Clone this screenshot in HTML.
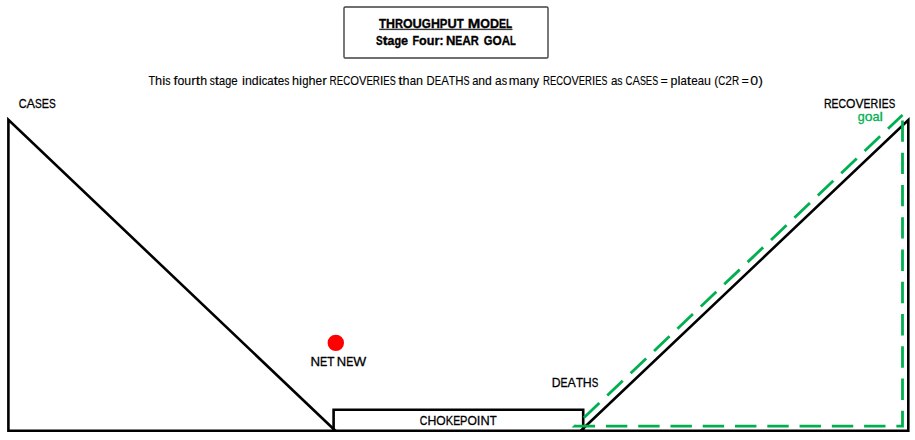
<!DOCTYPE html>
<html><head><meta charset="utf-8">
<style>
html,body{margin:0;padding:0;background:#fff;width:915px;height:440px;overflow:hidden}
svg{display:block}
text{font-family:"Liberation Sans",sans-serif;fill:#000;stroke:#000}
</style></head><body>
<svg width="915" height="440" viewBox="0 0 915 440">
<rect x="0" y="0" width="915" height="440" fill="#fff"/>
<!-- title box -->
<rect x="344" y="7" width="204" height="51" fill="none" stroke="#404040" stroke-width="1.4" rx="1.2"/>
<rect x="379.1" y="28.7" width="133.4" height="1.4" fill="#333"/>
<text x="378.97" y="27.90" font-size="13.23" font-weight="bold" textLength="7.03" lengthAdjust="spacingAndGlyphs" stroke-width="0.35">T</text>
<text x="386.00" y="27.90" font-size="13.23" font-weight="bold" textLength="8.96" lengthAdjust="spacingAndGlyphs" stroke-width="0.35">H</text>
<text x="394.97" y="27.90" font-size="13.23" font-weight="bold" textLength="8.00" lengthAdjust="spacingAndGlyphs" stroke-width="0.35">R</text>
<text x="402.96" y="27.90" font-size="13.23" font-weight="bold" textLength="9.60" lengthAdjust="spacingAndGlyphs" stroke-width="0.35">O</text>
<text x="412.57" y="27.90" font-size="13.23" font-weight="bold" textLength="9.28" lengthAdjust="spacingAndGlyphs" stroke-width="0.35">U</text>
<text x="421.84" y="27.90" font-size="13.23" font-weight="bold" textLength="9.05" lengthAdjust="spacingAndGlyphs" stroke-width="0.35">G</text>
<text x="430.89" y="27.90" font-size="13.23" font-weight="bold" textLength="8.96" lengthAdjust="spacingAndGlyphs" stroke-width="0.35">H</text>
<text x="439.86" y="27.90" font-size="13.23" font-weight="bold" textLength="7.56" lengthAdjust="spacingAndGlyphs" stroke-width="0.35">P</text>
<text x="447.42" y="27.90" font-size="13.23" font-weight="bold" textLength="9.28" lengthAdjust="spacingAndGlyphs" stroke-width="0.35">U</text>
<text x="456.69" y="27.90" font-size="13.23" font-weight="bold" textLength="7.03" lengthAdjust="spacingAndGlyphs" stroke-width="0.35">T</text>
<text x="467.79" y="27.90" font-size="13.23" font-weight="bold" textLength="12.53" lengthAdjust="spacingAndGlyphs" stroke-width="0.35">M</text>
<text x="480.32" y="27.90" font-size="13.23" font-weight="bold" textLength="9.69" lengthAdjust="spacingAndGlyphs" stroke-width="0.35">O</text>
<text x="490.01" y="27.90" font-size="13.23" font-weight="bold" textLength="9.03" lengthAdjust="spacingAndGlyphs" stroke-width="0.35">D</text>
<text x="499.05" y="27.90" font-size="13.23" font-weight="bold" textLength="7.00" lengthAdjust="spacingAndGlyphs" stroke-width="0.35">E</text>
<text x="506.04" y="27.90" font-size="13.23" font-weight="bold" textLength="6.06" lengthAdjust="spacingAndGlyphs" stroke-width="0.35">L</text>
<text x="376.11" y="44.70" font-size="13.23" font-weight="bold" textLength="6.61" lengthAdjust="spacingAndGlyphs" stroke-width="0.35">S</text>
<text x="382.72" y="44.70" font-size="13.23" font-weight="bold" textLength="4.85" lengthAdjust="spacingAndGlyphs" stroke-width="0.35">t</text>
<text x="387.57" y="44.70" font-size="13.23" font-weight="bold" textLength="6.90" lengthAdjust="spacingAndGlyphs" stroke-width="0.35">a</text>
<text x="394.48" y="44.70" font-size="13.23" font-weight="bold" textLength="6.62" lengthAdjust="spacingAndGlyphs" stroke-width="0.35">g</text>
<text x="401.10" y="44.70" font-size="13.23" font-weight="bold" textLength="7.03" lengthAdjust="spacingAndGlyphs" stroke-width="0.35">e</text>
<text x="412.48" y="44.70" font-size="13.23" font-weight="bold" textLength="6.56" lengthAdjust="spacingAndGlyphs" stroke-width="0.35">F</text>
<text x="419.04" y="44.70" font-size="13.23" font-weight="bold" textLength="7.69" lengthAdjust="spacingAndGlyphs" stroke-width="0.35">o</text>
<text x="426.74" y="44.70" font-size="13.23" font-weight="bold" textLength="7.68" lengthAdjust="spacingAndGlyphs" stroke-width="0.35">u</text>
<text x="434.42" y="44.70" font-size="13.23" font-weight="bold" textLength="5.08" lengthAdjust="spacingAndGlyphs" stroke-width="0.35">r</text>
<text x="439.49" y="44.70" font-size="13.23" font-weight="bold" textLength="3.95" lengthAdjust="spacingAndGlyphs" stroke-width="0.35">:</text>
<text x="445.93" y="44.70" font-size="13.23" font-weight="bold" textLength="9.36" lengthAdjust="spacingAndGlyphs" stroke-width="0.35">N</text>
<text x="455.29" y="44.70" font-size="13.23" font-weight="bold" textLength="6.93" lengthAdjust="spacingAndGlyphs" stroke-width="0.35">E</text>
<text x="462.22" y="44.70" font-size="13.23" font-weight="bold" textLength="8.61" lengthAdjust="spacingAndGlyphs" stroke-width="0.35">A</text>
<text x="470.83" y="44.70" font-size="13.23" font-weight="bold" textLength="8.00" lengthAdjust="spacingAndGlyphs" stroke-width="0.35">R</text>
<text x="483.84" y="44.70" font-size="13.23" font-weight="bold" textLength="8.69" lengthAdjust="spacingAndGlyphs" stroke-width="0.35">G</text>
<text x="492.53" y="44.70" font-size="13.23" font-weight="bold" textLength="9.22" lengthAdjust="spacingAndGlyphs" stroke-width="0.35">O</text>
<text x="501.75" y="44.70" font-size="13.23" font-weight="bold" textLength="8.27" lengthAdjust="spacingAndGlyphs" stroke-width="0.35">A</text>
<text x="510.02" y="44.70" font-size="13.23" font-weight="bold" textLength="5.77" lengthAdjust="spacingAndGlyphs" stroke-width="0.35">L</text>
<text x="148.56" y="84.90" font-size="11.92" textLength="6.57" lengthAdjust="spacingAndGlyphs" stroke-width="0.12">T</text>
<text x="155.13" y="84.90" font-size="11.92" textLength="7.08" lengthAdjust="spacingAndGlyphs" stroke-width="0.12">h</text>
<text x="162.21" y="84.90" font-size="11.92" textLength="3.09" lengthAdjust="spacingAndGlyphs" stroke-width="0.12">i</text>
<text x="165.30" y="84.90" font-size="11.92" textLength="5.28" lengthAdjust="spacingAndGlyphs" stroke-width="0.12">s</text>
<text x="173.50" y="84.90" font-size="11.92" textLength="3.98" lengthAdjust="spacingAndGlyphs" stroke-width="0.12">f</text>
<text x="177.48" y="84.90" font-size="11.92" textLength="6.88" lengthAdjust="spacingAndGlyphs" stroke-width="0.12">o</text>
<text x="184.36" y="84.90" font-size="11.92" textLength="6.85" lengthAdjust="spacingAndGlyphs" stroke-width="0.12">u</text>
<text x="191.21" y="84.90" font-size="11.92" textLength="4.56" lengthAdjust="spacingAndGlyphs" stroke-width="0.12">r</text>
<text x="195.77" y="84.90" font-size="11.92" textLength="4.37" lengthAdjust="spacingAndGlyphs" stroke-width="0.12">t</text>
<text x="200.15" y="84.90" font-size="11.92" textLength="6.85" lengthAdjust="spacingAndGlyphs" stroke-width="0.12">h</text>
<text x="209.72" y="84.90" font-size="11.92" textLength="5.02" lengthAdjust="spacingAndGlyphs" stroke-width="0.12">s</text>
<text x="214.74" y="84.90" font-size="11.92" textLength="4.30" lengthAdjust="spacingAndGlyphs" stroke-width="0.12">t</text>
<text x="219.03" y="84.90" font-size="11.92" textLength="6.14" lengthAdjust="spacingAndGlyphs" stroke-width="0.12">a</text>
<text x="225.18" y="84.90" font-size="11.92" textLength="6.04" lengthAdjust="spacingAndGlyphs" stroke-width="0.12">g</text>
<text x="231.22" y="84.90" font-size="11.92" textLength="6.39" lengthAdjust="spacingAndGlyphs" stroke-width="0.12">e</text>
<text x="242.00" y="84.90" font-size="11.92" textLength="2.99" lengthAdjust="spacingAndGlyphs" stroke-width="0.12">i</text>
<text x="244.99" y="84.90" font-size="11.92" textLength="6.86" lengthAdjust="spacingAndGlyphs" stroke-width="0.12">n</text>
<text x="251.85" y="84.90" font-size="11.92" textLength="6.86" lengthAdjust="spacingAndGlyphs" stroke-width="0.12">d</text>
<text x="258.71" y="84.90" font-size="11.92" textLength="2.99" lengthAdjust="spacingAndGlyphs" stroke-width="0.12">i</text>
<text x="261.70" y="84.90" font-size="11.92" textLength="5.53" lengthAdjust="spacingAndGlyphs" stroke-width="0.12">c</text>
<text x="267.22" y="84.90" font-size="11.92" textLength="6.26" lengthAdjust="spacingAndGlyphs" stroke-width="0.12">a</text>
<text x="273.48" y="84.90" font-size="11.92" textLength="4.38" lengthAdjust="spacingAndGlyphs" stroke-width="0.12">t</text>
<text x="277.86" y="84.90" font-size="11.92" textLength="6.51" lengthAdjust="spacingAndGlyphs" stroke-width="0.12">e</text>
<text x="284.36" y="84.90" font-size="11.92" textLength="5.11" lengthAdjust="spacingAndGlyphs" stroke-width="0.12">s</text>
<text x="292.13" y="84.90" font-size="11.92" textLength="7.02" lengthAdjust="spacingAndGlyphs" stroke-width="0.12">h</text>
<text x="299.14" y="84.90" font-size="11.92" textLength="3.06" lengthAdjust="spacingAndGlyphs" stroke-width="0.12">i</text>
<text x="302.20" y="84.90" font-size="11.92" textLength="6.29" lengthAdjust="spacingAndGlyphs" stroke-width="0.12">g</text>
<text x="308.50" y="84.90" font-size="11.92" textLength="7.02" lengthAdjust="spacingAndGlyphs" stroke-width="0.12">h</text>
<text x="315.51" y="84.90" font-size="11.92" textLength="6.66" lengthAdjust="spacingAndGlyphs" stroke-width="0.12">e</text>
<text x="322.17" y="84.90" font-size="11.92" textLength="4.66" lengthAdjust="spacingAndGlyphs" stroke-width="0.12">r</text>
<text x="329.59" y="84.90" font-size="11.92" textLength="7.16" lengthAdjust="spacingAndGlyphs" stroke-width="0.12">R</text>
<text x="336.75" y="84.90" font-size="11.92" textLength="6.43" lengthAdjust="spacingAndGlyphs" stroke-width="0.12">E</text>
<text x="343.18" y="84.90" font-size="11.92" textLength="7.03" lengthAdjust="spacingAndGlyphs" stroke-width="0.12">C</text>
<text x="350.21" y="84.90" font-size="11.92" textLength="8.73" lengthAdjust="spacingAndGlyphs" stroke-width="0.12">O</text>
<text x="358.94" y="84.90" font-size="11.92" textLength="7.48" lengthAdjust="spacingAndGlyphs" stroke-width="0.12">V</text>
<text x="366.41" y="84.90" font-size="11.92" textLength="6.43" lengthAdjust="spacingAndGlyphs" stroke-width="0.12">E</text>
<text x="372.85" y="84.90" font-size="11.92" textLength="7.16" lengthAdjust="spacingAndGlyphs" stroke-width="0.12">R</text>
<text x="380.01" y="84.90" font-size="11.92" textLength="3.32" lengthAdjust="spacingAndGlyphs" stroke-width="0.12">I</text>
<text x="383.33" y="84.90" font-size="11.92" textLength="6.43" lengthAdjust="spacingAndGlyphs" stroke-width="0.12">E</text>
<text x="389.76" y="84.90" font-size="11.92" textLength="6.05" lengthAdjust="spacingAndGlyphs" stroke-width="0.12">S</text>
<text x="398.16" y="84.90" font-size="11.92" textLength="4.47" lengthAdjust="spacingAndGlyphs" stroke-width="0.12">t</text>
<text x="402.62" y="84.90" font-size="11.92" textLength="7.00" lengthAdjust="spacingAndGlyphs" stroke-width="0.12">h</text>
<text x="409.63" y="84.90" font-size="11.92" textLength="6.39" lengthAdjust="spacingAndGlyphs" stroke-width="0.12">a</text>
<text x="416.02" y="84.90" font-size="11.92" textLength="7.00" lengthAdjust="spacingAndGlyphs" stroke-width="0.12">n</text>
<text x="426.58" y="84.90" font-size="11.92" textLength="8.14" lengthAdjust="spacingAndGlyphs" stroke-width="0.12">D</text>
<text x="434.72" y="84.90" font-size="11.92" textLength="6.46" lengthAdjust="spacingAndGlyphs" stroke-width="0.12">E</text>
<text x="441.18" y="84.90" font-size="11.92" textLength="7.67" lengthAdjust="spacingAndGlyphs" stroke-width="0.12">A</text>
<text x="448.84" y="84.90" font-size="11.92" textLength="6.45" lengthAdjust="spacingAndGlyphs" stroke-width="0.12">T</text>
<text x="455.29" y="84.90" font-size="11.92" textLength="8.25" lengthAdjust="spacingAndGlyphs" stroke-width="0.12">H</text>
<text x="463.54" y="84.90" font-size="11.92" textLength="6.08" lengthAdjust="spacingAndGlyphs" stroke-width="0.12">S</text>
<text x="472.13" y="84.90" font-size="11.92" textLength="6.16" lengthAdjust="spacingAndGlyphs" stroke-width="0.12">a</text>
<text x="478.29" y="84.90" font-size="11.92" textLength="6.75" lengthAdjust="spacingAndGlyphs" stroke-width="0.12">n</text>
<text x="485.03" y="84.90" font-size="11.92" textLength="6.75" lengthAdjust="spacingAndGlyphs" stroke-width="0.12">d</text>
<text x="495.10" y="84.90" font-size="11.92" textLength="6.60" lengthAdjust="spacingAndGlyphs" stroke-width="0.12">a</text>
<text x="501.70" y="84.90" font-size="11.92" textLength="5.39" lengthAdjust="spacingAndGlyphs" stroke-width="0.12">s</text>
<text x="508.84" y="84.90" font-size="11.92" textLength="10.76" lengthAdjust="spacingAndGlyphs" stroke-width="0.12">m</text>
<text x="519.60" y="84.90" font-size="11.92" textLength="6.45" lengthAdjust="spacingAndGlyphs" stroke-width="0.12">a</text>
<text x="526.05" y="84.90" font-size="11.92" textLength="7.07" lengthAdjust="spacingAndGlyphs" stroke-width="0.12">n</text>
<text x="533.12" y="84.90" font-size="11.92" textLength="6.10" lengthAdjust="spacingAndGlyphs" stroke-width="0.12">y</text>
<text x="543.01" y="84.90" font-size="11.92" textLength="6.95" lengthAdjust="spacingAndGlyphs" stroke-width="0.12">R</text>
<text x="549.96" y="84.90" font-size="11.92" textLength="6.25" lengthAdjust="spacingAndGlyphs" stroke-width="0.12">E</text>
<text x="556.21" y="84.90" font-size="11.92" textLength="6.82" lengthAdjust="spacingAndGlyphs" stroke-width="0.12">C</text>
<text x="563.03" y="84.90" font-size="11.92" textLength="8.47" lengthAdjust="spacingAndGlyphs" stroke-width="0.12">O</text>
<text x="571.50" y="84.90" font-size="11.92" textLength="7.26" lengthAdjust="spacingAndGlyphs" stroke-width="0.12">V</text>
<text x="578.76" y="84.90" font-size="11.92" textLength="6.25" lengthAdjust="spacingAndGlyphs" stroke-width="0.12">E</text>
<text x="585.01" y="84.90" font-size="11.92" textLength="6.95" lengthAdjust="spacingAndGlyphs" stroke-width="0.12">R</text>
<text x="591.96" y="84.90" font-size="11.92" textLength="3.23" lengthAdjust="spacingAndGlyphs" stroke-width="0.12">I</text>
<text x="595.18" y="84.90" font-size="11.92" textLength="6.25" lengthAdjust="spacingAndGlyphs" stroke-width="0.12">E</text>
<text x="601.43" y="84.90" font-size="11.92" textLength="5.88" lengthAdjust="spacingAndGlyphs" stroke-width="0.12">S</text>
<text x="610.91" y="84.90" font-size="11.92" textLength="6.43" lengthAdjust="spacingAndGlyphs" stroke-width="0.12">a</text>
<text x="617.33" y="84.90" font-size="11.92" textLength="5.24" lengthAdjust="spacingAndGlyphs" stroke-width="0.12">s</text>
<text x="625.51" y="84.90" font-size="11.92" textLength="6.90" lengthAdjust="spacingAndGlyphs" stroke-width="0.12">C</text>
<text x="632.41" y="84.90" font-size="11.92" textLength="7.49" lengthAdjust="spacingAndGlyphs" stroke-width="0.12">A</text>
<text x="639.91" y="84.90" font-size="11.92" textLength="5.94" lengthAdjust="spacingAndGlyphs" stroke-width="0.12">S</text>
<text x="645.85" y="84.90" font-size="11.92" textLength="6.32" lengthAdjust="spacingAndGlyphs" stroke-width="0.12">E</text>
<text x="652.17" y="84.90" font-size="11.92" textLength="5.94" lengthAdjust="spacingAndGlyphs" stroke-width="0.12">S</text>
<text x="660.49" y="84.90" font-size="11.92" textLength="7.33" lengthAdjust="spacingAndGlyphs" stroke-width="0.12">=</text>
<text x="670.60" y="84.90" font-size="11.92" textLength="6.90" lengthAdjust="spacingAndGlyphs" stroke-width="0.12">p</text>
<text x="677.50" y="84.90" font-size="11.92" textLength="3.01" lengthAdjust="spacingAndGlyphs" stroke-width="0.12">l</text>
<text x="680.50" y="84.90" font-size="11.92" textLength="6.29" lengthAdjust="spacingAndGlyphs" stroke-width="0.12">a</text>
<text x="686.80" y="84.90" font-size="11.92" textLength="4.40" lengthAdjust="spacingAndGlyphs" stroke-width="0.12">t</text>
<text x="691.20" y="84.90" font-size="11.92" textLength="6.54" lengthAdjust="spacingAndGlyphs" stroke-width="0.12">e</text>
<text x="697.74" y="84.90" font-size="11.92" textLength="6.29" lengthAdjust="spacingAndGlyphs" stroke-width="0.12">a</text>
<text x="704.03" y="84.90" font-size="11.92" textLength="6.90" lengthAdjust="spacingAndGlyphs" stroke-width="0.12">u</text>
<text x="714.25" y="84.90" font-size="11.92" textLength="4.00" lengthAdjust="spacingAndGlyphs" stroke-width="0.12">(</text>
<text x="718.26" y="84.90" font-size="11.92" textLength="7.04" lengthAdjust="spacingAndGlyphs" stroke-width="0.12">C</text>
<text x="725.29" y="84.90" font-size="11.92" textLength="6.70" lengthAdjust="spacingAndGlyphs" stroke-width="0.12">2</text>
<text x="731.99" y="84.90" font-size="11.92" textLength="7.17" lengthAdjust="spacingAndGlyphs" stroke-width="0.12">R</text>
<text x="741.49" y="84.90" font-size="11.92" textLength="7.33" lengthAdjust="spacingAndGlyphs" stroke-width="0.12">=</text>
<text x="750.35" y="84.90" font-size="11.92" textLength="7.84" lengthAdjust="spacingAndGlyphs" stroke-width="0.12">0</text>
<text x="758.19" y="84.90" font-size="11.92" textLength="4.68" lengthAdjust="spacingAndGlyphs" stroke-width="0.12">)</text>
<text x="18.65" y="107.80" font-size="13.37" textLength="7.84" lengthAdjust="spacingAndGlyphs" stroke-width="0.3">C</text>
<text x="26.48" y="107.80" font-size="13.37" textLength="8.51" lengthAdjust="spacingAndGlyphs" stroke-width="0.3">A</text>
<text x="35.00" y="107.80" font-size="13.37" textLength="6.75" lengthAdjust="spacingAndGlyphs" stroke-width="0.3">S</text>
<text x="41.74" y="107.80" font-size="13.37" textLength="7.17" lengthAdjust="spacingAndGlyphs" stroke-width="0.3">E</text>
<text x="48.92" y="107.80" font-size="13.37" textLength="6.75" lengthAdjust="spacingAndGlyphs" stroke-width="0.3">S</text>
<text x="823.93" y="107.70" font-size="13.37" textLength="7.70" lengthAdjust="spacingAndGlyphs" stroke-width="0.3">R</text>
<text x="831.62" y="107.70" font-size="13.37" textLength="6.92" lengthAdjust="spacingAndGlyphs" stroke-width="0.3">E</text>
<text x="838.54" y="107.70" font-size="13.37" textLength="7.56" lengthAdjust="spacingAndGlyphs" stroke-width="0.3">C</text>
<text x="846.10" y="107.70" font-size="13.37" textLength="9.39" lengthAdjust="spacingAndGlyphs" stroke-width="0.3">O</text>
<text x="855.49" y="107.70" font-size="13.37" textLength="8.04" lengthAdjust="spacingAndGlyphs" stroke-width="0.3">V</text>
<text x="863.53" y="107.70" font-size="13.37" textLength="6.92" lengthAdjust="spacingAndGlyphs" stroke-width="0.3">E</text>
<text x="870.45" y="107.70" font-size="13.37" textLength="7.70" lengthAdjust="spacingAndGlyphs" stroke-width="0.3">R</text>
<text x="878.15" y="107.70" font-size="13.37" textLength="3.57" lengthAdjust="spacingAndGlyphs" stroke-width="0.3">I</text>
<text x="881.72" y="107.70" font-size="13.37" textLength="6.92" lengthAdjust="spacingAndGlyphs" stroke-width="0.3">E</text>
<text x="888.64" y="107.70" font-size="13.37" textLength="6.51" lengthAdjust="spacingAndGlyphs" stroke-width="0.3">S</text>
<text x="310.42" y="366.10" font-size="13.37" textLength="9.55" lengthAdjust="spacingAndGlyphs" stroke-width="0.3">N</text>
<text x="319.96" y="366.10" font-size="13.37" textLength="7.21" lengthAdjust="spacingAndGlyphs" stroke-width="0.3">E</text>
<text x="327.17" y="366.10" font-size="13.37" textLength="7.20" lengthAdjust="spacingAndGlyphs" stroke-width="0.3">T</text>
<text x="336.83" y="366.10" font-size="13.37" textLength="9.39" lengthAdjust="spacingAndGlyphs" stroke-width="0.3">N</text>
<text x="346.22" y="366.10" font-size="13.37" textLength="7.09" lengthAdjust="spacingAndGlyphs" stroke-width="0.3">E</text>
<text x="353.31" y="366.10" font-size="13.37" textLength="12.93" lengthAdjust="spacingAndGlyphs" stroke-width="0.3">W</text>
<text x="551.80" y="386.90" font-size="13.37" textLength="8.81" lengthAdjust="spacingAndGlyphs" stroke-width="0.3">D</text>
<text x="560.61" y="386.90" font-size="13.37" textLength="6.99" lengthAdjust="spacingAndGlyphs" stroke-width="0.3">E</text>
<text x="567.59" y="386.90" font-size="13.37" textLength="8.29" lengthAdjust="spacingAndGlyphs" stroke-width="0.3">A</text>
<text x="575.89" y="386.90" font-size="13.37" textLength="6.97" lengthAdjust="spacingAndGlyphs" stroke-width="0.3">T</text>
<text x="582.86" y="386.90" font-size="13.37" textLength="8.92" lengthAdjust="spacingAndGlyphs" stroke-width="0.3">H</text>
<text x="591.78" y="386.90" font-size="13.37" textLength="6.57" lengthAdjust="spacingAndGlyphs" stroke-width="0.3">S</text>
<text x="419.87" y="424.90" font-size="13.37" textLength="7.58" lengthAdjust="spacingAndGlyphs" stroke-width="0.3">C</text>
<text x="427.45" y="424.90" font-size="13.37" textLength="8.86" lengthAdjust="spacingAndGlyphs" stroke-width="0.3">H</text>
<text x="436.32" y="424.90" font-size="13.37" textLength="9.42" lengthAdjust="spacingAndGlyphs" stroke-width="0.3">O</text>
<text x="445.73" y="424.90" font-size="13.37" textLength="7.40" lengthAdjust="spacingAndGlyphs" stroke-width="0.3">K</text>
<text x="453.13" y="424.90" font-size="13.37" textLength="6.94" lengthAdjust="spacingAndGlyphs" stroke-width="0.3">E</text>
<text x="460.08" y="424.90" font-size="13.37" textLength="7.36" lengthAdjust="spacingAndGlyphs" stroke-width="0.3">P</text>
<text x="467.43" y="424.90" font-size="13.37" textLength="9.42" lengthAdjust="spacingAndGlyphs" stroke-width="0.3">O</text>
<text x="476.85" y="424.90" font-size="13.37" textLength="3.59" lengthAdjust="spacingAndGlyphs" stroke-width="0.3">I</text>
<text x="480.44" y="424.90" font-size="13.37" textLength="9.19" lengthAdjust="spacingAndGlyphs" stroke-width="0.3">N</text>
<text x="489.63" y="424.90" font-size="13.37" textLength="6.93" lengthAdjust="spacingAndGlyphs" stroke-width="0.3">T</text>
<text x="857.78" y="120.50" font-size="13.37" textLength="6.94" lengthAdjust="spacingAndGlyphs" stroke-width="0.3" style="fill:#00B050;stroke:#00B050">g</text>
<text x="864.72" y="120.50" font-size="13.37" textLength="7.77" lengthAdjust="spacingAndGlyphs" stroke-width="0.3" style="fill:#00B050;stroke:#00B050">o</text>
<text x="872.48" y="120.50" font-size="13.37" textLength="7.06" lengthAdjust="spacingAndGlyphs" stroke-width="0.3" style="fill:#00B050;stroke:#00B050">a</text>
<text x="879.54" y="120.50" font-size="13.37" textLength="3.37" lengthAdjust="spacingAndGlyphs" stroke-width="0.3" style="fill:#00B050;stroke:#00B050">l</text>
<!-- red dot -->
<circle cx="335.8" cy="342.9" r="8.2" fill="#f00"/>
<!-- black shapes -->
<path d="M8.4,119.8 L8.4,430.8 L335.4,430.8 Z" fill="none" stroke="#000" stroke-width="2.6" stroke-linejoin="miter"/>
<path d="M333.6,430.8 L333.6,409.8 L583.2,409.8 L583.2,430.8 Z" fill="none" stroke="#000" stroke-width="2.6"/>
<path d="M580.8,430.8 L908.3,430.8 L908.3,120 Z" fill="none" stroke="#000" stroke-width="2.6" stroke-linejoin="miter"/>
<!-- green dashed -->
<path d="M902.5,115 L575,426.1 L902.5,426.1 Z" fill="none" stroke="#00B050" stroke-width="2.8" stroke-dasharray="21.4 10.87" stroke-dashoffset="1.4"/>
</svg>
</body></html>
